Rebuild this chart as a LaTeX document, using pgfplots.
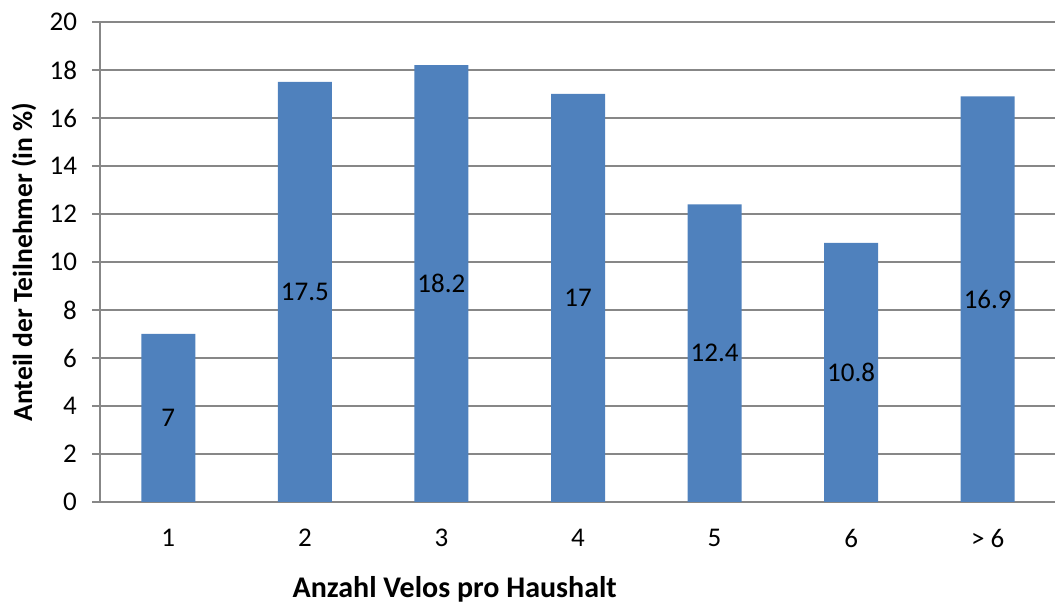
\documentclass[border=0pt]{standalone}
\usepackage{fontspec}
\setmainfont{Carlito}
\usepackage{pgfplots}
\usepackage{pgfplotstable}
\pgfplotsset{compat=1.18}

\definecolor{barblue}{HTML}{4F81BD}
\definecolor{gridgray}{HTML}{878787}

\pgfplotstableread{
x  share
0  7
1  17.5
2  18.2
3  17
4  12.4
5  10.8
6  16.9
}\velos

\begin{document}
\begin{tikzpicture}
  \begin{axis}[
      scale only axis, width=478pt, height=240pt,
      xmin=-0.5, xmax=6.5, ymin=0, ymax=20,
      axis x line*=bottom, axis y line*=left,
      axis line style={gridgray, line width=1pt},
      ytick={0,2,...,20}, ymajorgrids,
      grid style={gridgray, line width=1pt},
      xtick={0,...,6}, xticklabels={1,2,3,4,5,6,{> 6}},
      major x tick style={draw=none},
      extra x ticks={0.5,1.5,...,5.5}, extra x tick labels={},
      extra x tick style={major tick style={gridgray, line width=1pt},
        major tick length=4pt, tick align=outside, grid=none},
      major tick length=4pt, tick align=outside,
      y tick style={gridgray, line width=1pt},
      tick label style={font=\fontsize{13.5}{16}\selectfont, black},
      /pgf/number format/assume math mode=true,
      yticklabel style={xshift=-4pt},
      xticklabel style={yshift=-6pt},
      xlabel={\textbf{Anzahl Velos pro Haushalt}},
      ylabel={\textbf{Anteil der Teilnehmer (in \%)}},
      xlabel style={font=\fontsize{15}{18}\selectfont,
        at={(axis description cs:0.371,0)}, anchor=center, yshift=-43.5pt},
      every axis y label/.append style={font=\fontsize{13.8}{16}\selectfont,
        at={(axis description cs:-0.0795,0.5)}, anchor=center},
      clip=false,
    ]
    \addplot[ybar, bar width=27pt, fill=barblue, draw=none] table[x=x, y=share] {\velos};
    % value labels in the middle of each bar
    \addplot[only marks, mark=none, point meta=explicit,
      nodes near coords,
      nodes near coords style={font=\fontsize{13.5}{16}\selectfont, black, anchor=center,
        /pgf/number format/assume math mode=true},
    ] table[x=x, y expr=\thisrow{share}/2, meta=share] {\velos};
  \end{axis}
  \pgfresetboundingbox
  \path[use as bounding box] ([shift={(-50pt,-50pt)}]current axis.south west)
    rectangle ([shift={(-0.5pt,11pt)}]current axis.north east);
\end{tikzpicture}
\end{document}
